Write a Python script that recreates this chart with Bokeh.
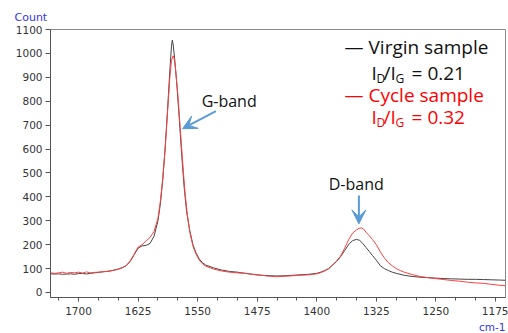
from bokeh.plotting import figure
from bokeh.models import Label, Arrow, VeeHead, FixedTicker, Range1d, Title
from bokeh.embed import file_html
from bokeh.resources import INLINE

# ---- data (Raman shift in cm-1, intensity in counts) ----
virgin_x = [1736, 1735, 1730, 1725, 1720, 1715, 1710, 1705, 1700, 1695, 1690, 1685, 1680, 1675,
            1670, 1665, 1660, 1655, 1650, 1645, 1640, 1635, 1630, 1625, 1620, 1615, 1610, 1605,
            1600, 1597, 1594, 1591, 1588, 1585, 1583, 1582, 1581, 1579, 1576, 1573, 1570, 1567,
            1564, 1560, 1556, 1552, 1548, 1544, 1540, 1530, 1520, 1510, 1500, 1490, 1480, 1470,
            1460, 1450, 1440, 1430, 1420, 1410, 1400, 1395, 1390, 1385, 1380, 1375, 1370, 1365,
            1360, 1355, 1350, 1346, 1342, 1338, 1334, 1330, 1325, 1320, 1315, 1310, 1305, 1300,
            1290, 1280, 1270, 1260, 1250, 1240, 1230, 1220, 1210, 1200, 1190, 1180, 1170, 1162]
virgin_y = [78, 78, 77, 78, 76, 77, 78, 76, 79, 80, 77, 80, 82, 84,
            86, 88, 90, 94, 98, 104, 112, 130, 158, 185, 195, 197, 205, 235,
            300, 370, 470, 600, 760, 930, 1030, 1055, 1040, 980, 860, 720, 570, 440,
            340, 260, 200, 165, 140, 125, 115, 103, 94, 88, 85, 80, 76, 72,
            70, 69, 70, 72, 74, 76, 80, 85, 92, 100, 115, 130, 150, 175,
            200, 217, 222, 218, 205, 188, 172, 155, 135, 112, 100, 92, 85, 80,
            72, 67, 64, 62, 60, 58, 57, 56, 55, 55, 54, 53, 52, 51]

cycle_x = [1736, 1735, 1730, 1725, 1720, 1715, 1710, 1705, 1700, 1695, 1690, 1685, 1680, 1675,
           1670, 1665, 1660, 1655, 1650, 1645, 1640, 1635, 1630, 1625, 1620, 1615, 1610, 1605,
           1600, 1597, 1594, 1591, 1588, 1585, 1583, 1581, 1580, 1578, 1575, 1572, 1569, 1566,
           1563, 1560, 1556, 1552, 1548, 1544, 1540, 1530, 1520, 1510, 1500, 1490, 1480, 1470,
           1460, 1450, 1440, 1430, 1420, 1410, 1400, 1395, 1390, 1385, 1380, 1375, 1370, 1365,
           1360, 1355, 1350, 1347, 1344, 1341, 1338, 1334, 1330, 1325, 1320, 1315, 1310, 1305,
           1300, 1295, 1290, 1280, 1270, 1260, 1250, 1240, 1230, 1220, 1210, 1200, 1190, 1180,
           1170, 1162]
cycle_y = [82, 82, 80, 82, 85, 80, 84, 82, 85, 81, 86, 82, 84, 85,
           87, 88, 90, 93, 97, 103, 112, 132, 160, 190, 200, 215, 230, 255,
           310, 380, 475, 600, 750, 900, 970, 990, 985, 940, 830, 690, 550, 420,
           325, 255, 195, 160, 135, 120, 110, 98, 90, 85, 82, 80, 75, 72,
           68, 66, 68, 70, 72, 74, 78, 83, 90, 100, 115, 132, 152, 185,
           220, 248, 262, 268, 270, 265, 252, 238, 222, 200, 170, 145, 125, 112,
           100, 92, 85, 75, 67, 62, 58, 54, 50, 47, 43, 40, 38, 34,
           30, 28]

x_ticks = [1700, 1625, 1550, 1475, 1400, 1325, 1250, 1175]
x_minor = [1725, 1700, 1675, 1650, 1625, 1600, 1575, 1550, 1525, 1500, 1475, 1450, 1425, 1400,
           1375, 1350, 1325, 1300, 1275, 1250, 1225, 1200, 1175]
y_ticks = [0, 100, 200, 300, 400, 500, 600, 700, 800, 900, 1000, 1100]

legend_names = ["Virgin sample", "Cycle sample"]
legend_ratios = ["0.21", "0.32"]
legend_colors = ["#111111", "#ff0000"]

BLUE = "#5b9bd5"
FONT = "Open Sans"

p = figure(width=508, height=333, output_backend="svg", toolbar_location=None,
           x_range=Range1d(1735.3, 1162.4), y_range=Range1d(-21, 1100),
           min_border_left=50, min_border_right=3, min_border_top=29, min_border_bottom=36)

p.line(virgin_x, virgin_y, line_color="#444444", line_width=1)
p.line(cycle_x, cycle_y, line_color="#ff4040", line_width=1)

p.grid.visible = False
p.outline_line_color = "#8a8a8a"
p.outline_line_width = 1

p.xaxis.ticker = FixedTicker(ticks=x_ticks, minor_ticks=x_minor)
p.yaxis.ticker = FixedTicker(ticks=y_ticks, minor_ticks=[])
for ax in (p.xaxis, p.yaxis):
    ax.axis_line_color = "#555555"
    ax.major_tick_line_color = "#555555"
    ax.minor_tick_line_color = "#555555"
    ax.major_tick_in = 0
    ax.minor_tick_in = 0
    ax.major_label_text_font = "DejaVu Sans"
    ax.major_label_text_font_size = "10.5px"
    ax.major_label_text_color = "#333333"
p.xaxis.major_tick_out = 4
p.xaxis.minor_tick_out = 3
p.xaxis.major_label_standoff = 5
p.yaxis.major_tick_out = 5
p.yaxis.major_label_standoff = 3

# axis unit labels
p.add_layout(Title(text="Count", align="left", offset=-36, standoff=11, text_font="DejaVu Sans",
                   text_font_size="11px", text_font_style="normal", text_color="#3333ee"), "above")
p.add_layout(Title(text="cm-1", align="right", offset=0, standoff=2, text_font="DejaVu Sans",
                   text_font_size="10.5px", text_font_style="normal", text_color="#3333ee"), "below")

# band annotations
p.add_layout(Label(x=1545, y=803, text="G-band", text_font=FONT, text_font_size="16px",
                   text_color="#111111", text_baseline="middle"))
p.add_layout(Arrow(x_start=1527, y_start=759, x_end=1569, y_end=685, line_color=BLUE, line_width=2,
                   end=VeeHead(size=14, fill_color=BLUE, line_color=BLUE)))
p.add_layout(Label(x=1385, y=452, text="D-band", text_font=FONT, text_font_size="16px",
                   text_color="#111111", text_baseline="middle"))
p.add_layout(Arrow(x_start=1347, y_start=406, x_end=1347, y_end=287, line_color=BLUE, line_width=2,
                   end=VeeHead(size=14, fill_color=BLUE, line_color=BLUE)))

# legend text
row_y = [(1025, 916), (824, 732)]
for name, ratio, col, (y1, y2) in zip(legend_names, legend_ratios, legend_colors, row_y):
    p.add_layout(Label(x=1365, y=y1, text="\u2014 " + name, text_font=FONT, text_font_size="19px",
                       text_color=col, text_baseline="middle"))
    pieces = [("I", 0, 0, "19px"), ("D", 5, -5, "12px"), ("/I", 12, 0, "19px"),
              ("G", 24, -5, "12px"), ("= " + ratio, 40, 0, "19px")]
    for txt, dx, dy, fs in pieces:
        p.add_layout(Label(x=1331, y=y2, x_offset=dx, y_offset=dy, text=txt, text_font=FONT,
                           text_font_size=fs, text_color=col, text_baseline="middle"))

open("out.html", "w").write(file_html(p, INLINE))
